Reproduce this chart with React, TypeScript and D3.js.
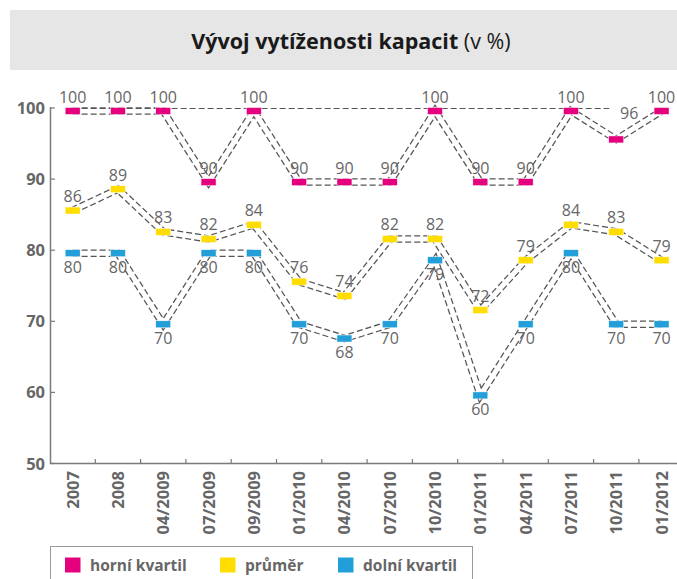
import React from "react";
import * as d3 from "d3";

const categories = ["2007", "2008", "04/2009", "07/2009", "09/2009", "01/2010", "04/2010", "07/2010", "10/2010", "01/2011", "04/2011", "07/2011", "10/2011", "01/2012"];
const horni = [100, 100, 100, 90, 100, 90, 90, 90, 100, 90, 90, 100, 96, 100];
const prumer = [86, 89, 83, 82, 84, 76, 74, 82, 82, 72, 79, 84, 83, 79];
const dolni = [80, 80, 70, 80, 80, 70, 68, 70, 79, 60, 70, 80, 70, 70];
const yTicks = [50, 60, 70, 80, 90, 100];
const legendItems = ["horní kvartil", "průměr", "dolní kvartil"];

const W = 677, H = 579;
const GRAY = "#666666";
const FONT = "'Open Sans', 'Noto Sans', sans-serif";

export default function App() {
  const x0 = 50;
  const band = 45.3;
  const x = d3.scaleBand<string>().domain(categories).range([x0, x0 + band * categories.length]).padding(0);
  const y = d3.scaleLinear().domain([50, 100]).range([463.5, 108]);
  const cx = (i: number) => (x(categories[i]) as number) + x.bandwidth() / 2;
  const off = 3;
  const line = d3.line<number>().x((_, i) => cx(i)).y((v) => y(v) + off);

  const series = [
    { name: legendItems[0], values: horni, color: "#e5007d", pos: "above" },
    { name: legendItems[1], values: prumer, color: "#ffdd00", pos: "above" },
    { name: legendItems[2], values: dolni, color: "#229fd9", pos: "below" },
  ];

  const mw = 15, mh = 7;

  return (
    <div style={{ position: "absolute", left: 0, top: 0 }}>
      <svg width={W} height={H} style={{ display: "block" }}>
        <rect x={0} y={0} width={W} height={H} fill="#fff" />
        <rect x={10} y={10} width={W - 10} height={60} fill="#e6e6e6" />
        <text x={351} y={48.5} textAnchor="middle" fontFamily={FONT} fontSize={21.5} fill="#1a1a1a">
          <tspan fontWeight="bold">Vývoj vytíženosti kapacit</tspan>
          <tspan fontWeight="normal"> (v %)</tspan>
        </text>

        {/* axes */}
        <line x1={50.5} x2={50.5} y1={107} y2={464} stroke="#7a7a7a" strokeWidth={1.5} />
        <line x1={50} x2={W} y1={463.5} y2={463.5} stroke="#7a7a7a" strokeWidth={1.5} />
        {yTicks.map((t) => (
          <g key={t}>
            <line x1={50} x2={55} y1={y(t)} y2={y(t)} stroke="#7a7a7a" strokeWidth={1.2} />
            <text x={45} y={y(t) + 6} textAnchor="end" fontFamily={FONT} fontWeight="bold" fontSize={16.5} fill={GRAY}>
              {t}
            </text>
          </g>
        ))}
        {categories.slice(1).map((c) => (
          <line key={c} x1={x(c) as number} x2={x(c) as number} y1={459} y2={463.5} stroke="#7a7a7a" strokeWidth={1.2} />
        ))}
        {categories.map((c, i) => (
          <text key={c} transform={`translate(${cx(i) + 6},471) rotate(-90)`} textAnchor="end" fontFamily={FONT} fontWeight="bold" fontSize={16.5} fill={GRAY}>
            {c}
          </text>
        ))}

        {/* lines */}
        {series.map((s) => (
          <g key={s.name}>
            <path d={line(s.values) as string} fill="none" stroke="#555" strokeWidth={7.5} strokeDasharray="6,3" />
            <path d={line(s.values) as string} fill="none" stroke="#fff" strokeWidth={5} />
          </g>
        ))}
        <line x1={cx(0)} x2={cx(12) - 7} y1={y(100) + 0.5} y2={y(100) + 0.5} stroke="#555" strokeWidth={1.2} strokeDasharray="6,3" />

        {/* markers & labels */}
        {series.map((s) => (
          <g key={s.name + "m"}>
            {s.values.map((v, i) => {
              const special = s.values === horni && i === 12;
              const lx = cx(i) + (special ? 13 : 0);
              const ly = s.pos === "above" ? y(v) - (special ? 17 : 5.5) : y(v) + off + mh / 2 + 16;
              return (
                <g key={i}>
                  <rect x={cx(i) - mw / 2} y={y(v) + off - mh / 2} width={mw} height={mh} fill={s.color} stroke="#fff" strokeWidth={0.5} />
                  <text x={lx} y={ly} textAnchor="middle" fontFamily={FONT} fontWeight={500} fontSize={16} fill={GRAY}>
                    {v}
                  </text>
                </g>
              );
            })}
          </g>
        ))}

        {/* legend */}
        <rect x={50.5} y={546.5} width={422} height={40} fill="#fff" stroke="#999" strokeWidth={1} />
        {series.map((s, i) => {
          const lx = [65, 220, 338][i];
          return (
            <g key={s.name + "l"}>
              <rect x={lx} y={557.5} width={15.5} height={15} fill={s.color} />
              <text x={lx + 25} y={571} fontFamily={FONT} fontWeight="bold" fontSize={15.5} fill={GRAY}>
                {s.name}
              </text>
            </g>
          );
        })}
      </svg>
    </div>
  );
}
